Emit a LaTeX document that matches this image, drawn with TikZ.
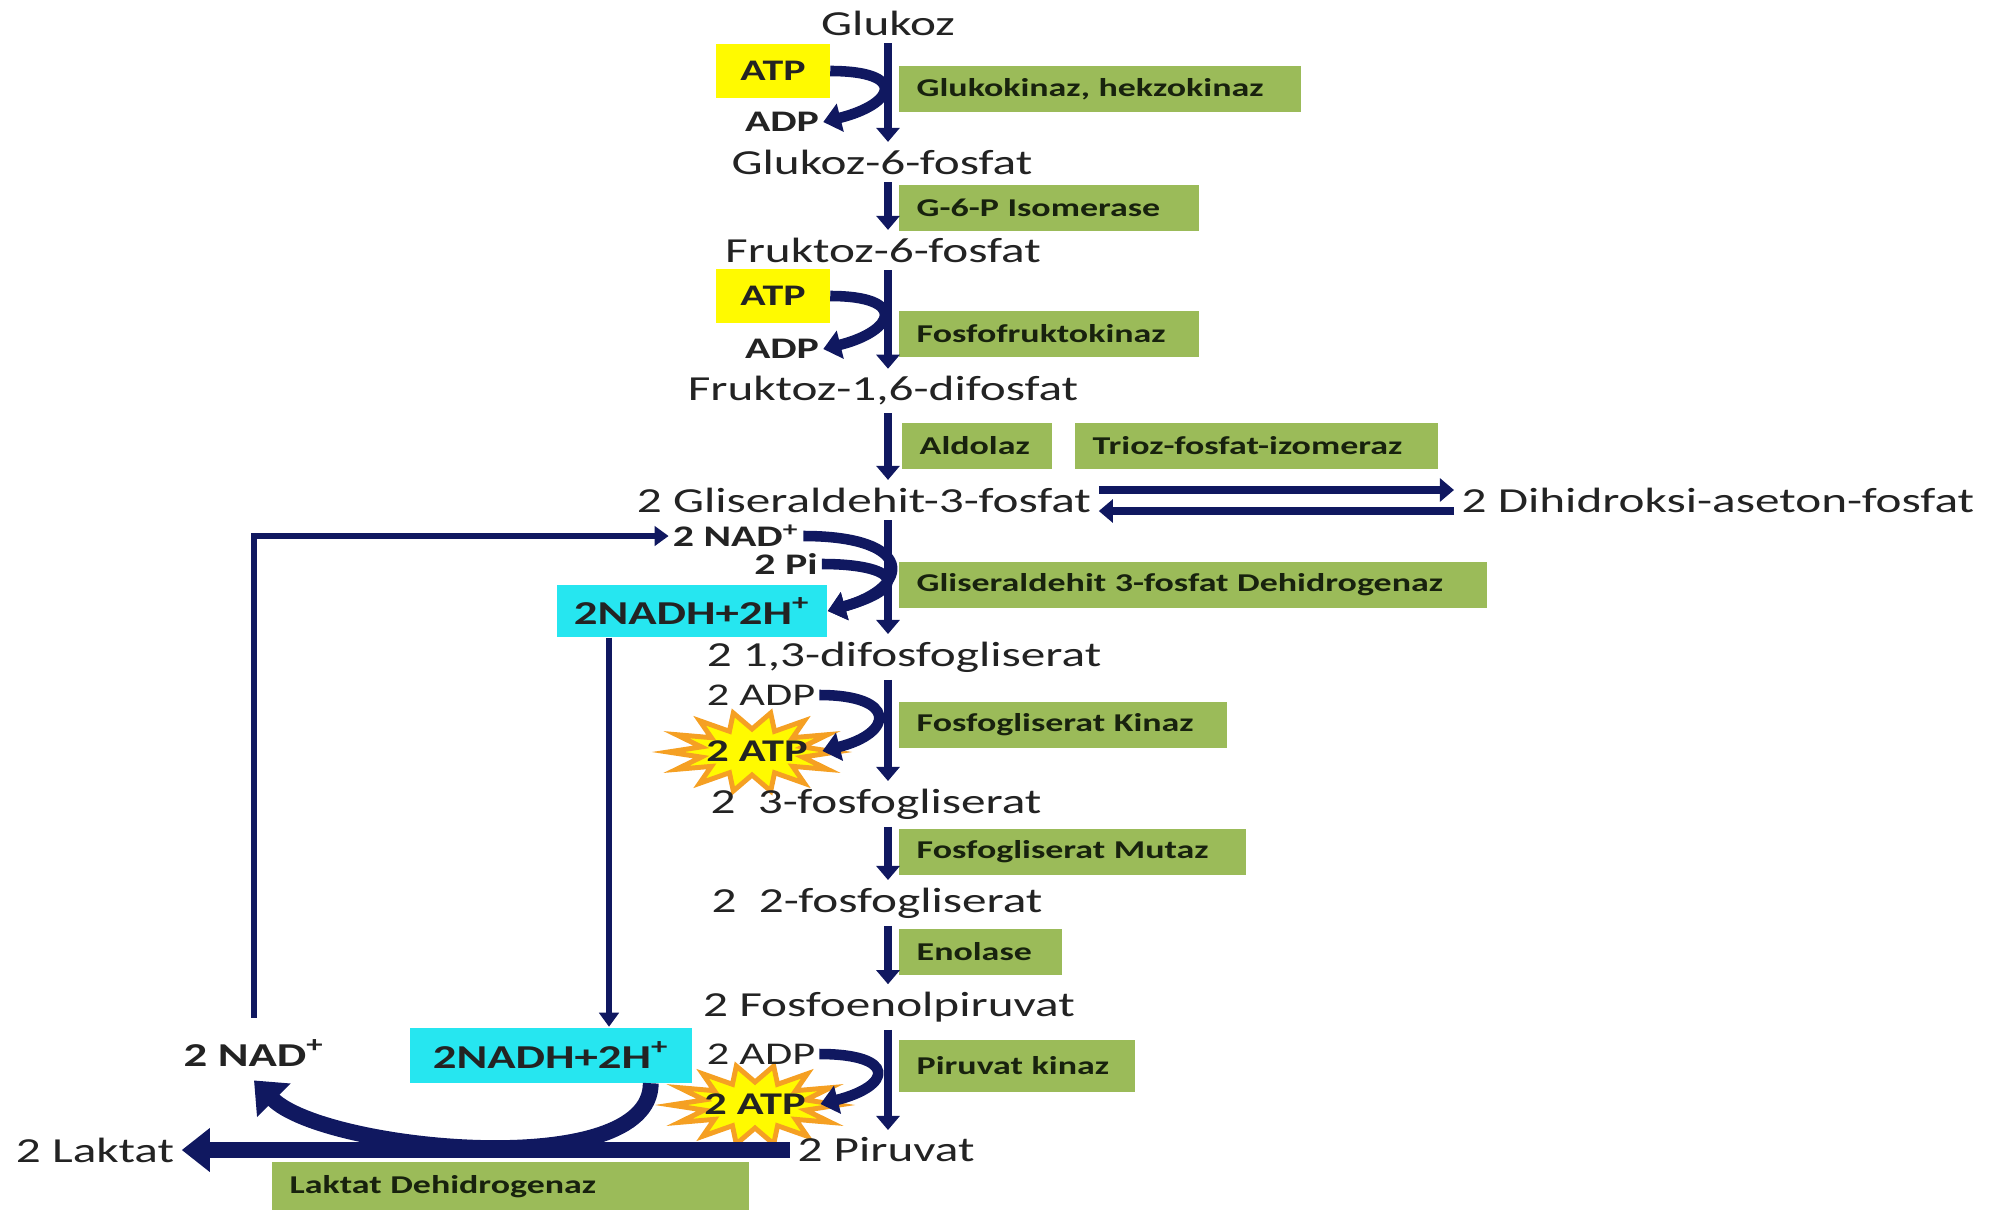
\documentclass[tikz,border=0pt]{standalone}
\usepackage{fontspec}
\setmainfont[FakeStretch=1.4]{Carlito}
\usepackage{tikz}
\usetikzlibrary{arrows.meta,positioning}
\definecolor{glyNavy}{RGB}{16,24,96}
\definecolor{glyGreen}{RGB}{155,187,89}
\definecolor{glyInk}{RGB}{24,34,14}
\definecolor{glyYellow}{RGB}{255,250,0}
\definecolor{glyCyan}{RGB}{38,230,240}
\definecolor{glyOrange}{RGB}{245,160,35}
\definecolor{glyText}{RGB}{35,35,35}

\begin{document}
\begin{tikzpicture}[
  x=0.01cm, y=-0.01cm,
  met/.style={font=\fontsize{10}{12}\selectfont,text=glyText,inner sep=2pt},
  cof/.style={font=\fontsize{8.5}{10}\selectfont\bfseries,text=glyText,inner sep=1pt},
  enz/.style={fill=glyGreen,text=glyInk,font=\fontsize{7.3}{9}\selectfont\bfseries,anchor=west,align=left,inner xsep=0.18cm,inner ysep=0pt,minimum height=0.46cm},
  atpbox/.style={fill=glyYellow,text=glyText,font=\fontsize{8.5}{10}\selectfont\bfseries,minimum width=1.13cm,minimum height=0.54cm,inner sep=0pt},
  nadhbox/.style={fill=glyCyan,text=glyText,font=\fontsize{9.5}{11}\selectfont\bfseries,inner sep=0pt},
  flow/.style={draw=glyNavy,line width=2.3pt,-{Triangle[width=6.5pt,length=4pt]}},
  side/.style={draw=glyNavy,line width=3pt,-{Triangle[width=8pt,length=5pt]}},
  loopline/.style={draw=glyNavy,line width=1.8pt,-{Triangle[width=5.5pt,length=4pt]}},
  burst/.style={fill=glyYellow,draw=glyOrange,line width=1.4pt,line join=miter}
]
  \useasboundingbox (0,0) rectangle (1998,1209);
  \coordinate (axis) at (888,0);
  \coordinate (drop) at (609,0);

  % stars behind the 2 ATP labels
  \foreach \cx/\cy in {752/752,755/1105}
    \filldraw[burst] plot[domain=0:27,samples=28,variable=\k]
      ({\cx+ifthenelse(mod(round(\k),2)==0,84,52)*cos(\k*360/28)},
       {\cy+ifthenelse(mod(round(\k),2)==0,40,23)*sin(\k*360/28)}) -- cycle;

  % metabolites
  \node[met] (glc)  at (888,23)   {Glukoz};
  \node[met] (g6p)  at (882,162)  {Glukoz-6-fosfat};
  \node[met] (f6p)  at (883,250)  {Fruktoz-6-fosfat};
  \node[met] (f16)  at (883,391)  {Fruktoz-1,6-difosfat};
  \node[met] (gap)  at (864,500)  {2 Gliseraldehit-3-fosfat};
  \node[met] (dhap) at (1718,500) {2 Dihidroksi-aseton-fosfat};
  \node[met] (bpg)  at (904,657)  {2 1,3-difosfogliserat};
  \node[met] (pg3)  at (876,804)  {2~~3-fosfogliserat};
  \node[met] (pg2)  at (877,903)  {2~~2-fosfogliserat};
  \node[met] (pep)  at (889,1007) {2 Fosfoenolpiruvat};
  \node[met] (pyr)  at (886,1150) {2 Piruvat};
  \node[met] (lac)  at (95,1150)  {2 Laktat};

  % enzymes
  \node[enz,text width=3.66cm] (hk)    at (898,89)   {Glukokinaz, hekzokinaz};
  \node[enz,text width=2.64cm] (gpi)   at (898,208)  {G-6-P Isomerase};
  \node[enz,text width=2.64cm] (pfk)   at (898,334)  {Fosfofruktokinaz};
  \node[enz,text width=1.14cm] (ald)   at (901,446)  {Aldolaz};
  \node[enz,text width=3.27cm] (tpi)   at (1074,446) {Trioz-fosfat-izomeraz};
  \node[enz,text width=5.52cm] (gapdh) at (898,585)  {Gliseraldehit 3-fosfat Dehidrogenaz};
  \node[enz,text width=2.92cm] (pgk)   at (898,725)  {Fosfogliserat Kinaz};
  \node[enz,text width=3.11cm] (pgm)   at (898,852)  {Fosfogliserat Mutaz};
  \node[enz,text width=1.27cm] (eno)   at (898,952)  {Enolase};
  \node[enz,text width=2.0cm,minimum height=0.52cm] (pk) at (898,1066) {Piruvat kinaz};
  \node[enz,text width=4.41cm,minimum height=0.5cm] (ldh) at (271,1187) {Laktat Dehidrogenaz};

  % cofactors
  \node[atpbox] (atp1) at (773,71)  {ATP};
  \node[cof]    (adp1) at (782,122) {ADP};
  \node[atpbox] (atp2) at (773,296) {ATP};
  \node[cof]    (adp2) at (782,349) {ADP};
  \node[cof]    (nadu) at (736,536) {2 NAD\textsuperscript{+}};
  \node[cof]    (pi)   at (786,564) {2 Pi};
  \node[nadhbox,minimum width=2.7cm,minimum height=0.52cm] (nadh1) at (692,611) {2NADH+2H\textsuperscript{+}};
  \node[cof,font=\fontsize{9}{11}\selectfont] (adp3) at (761,695) {2 ADP};
  \node[cof,font=\fontsize{9}{11}\selectfont\bfseries,inner xsep=4pt] (atp3) at (757,751) {2 ATP};
  \node[cof,font=\fontsize{9}{11}\selectfont] (adp4) at (761,1054) {2 ADP};
  \node[cof,font=\fontsize{9}{11}\selectfont\bfseries,inner xsep=4pt] (atp4) at (755,1104) {2 ATP};
  \node[nadhbox,minimum width=2.82cm,minimum height=0.55cm] (nadh2) at (551,1055) {2NADH+2H\textsuperscript{+}};
  \node[cof,font=\fontsize{9.5}{11}\selectfont\bfseries] (nadb) at (254,1053) {2 NAD\textsuperscript{+}};

  % main chain
  \draw[flow] (glc.south -| axis) -- (g6p.north -| axis);
  \draw[flow] (g6p.south -| axis) -- (f6p.north -| axis);
  \draw[flow] (f6p.south -| axis) -- (f16.north -| axis);
  \draw[flow] (f16.south -| axis) -- (gap.north -| axis);
  \draw[flow] (gap.south -| axis) -- (bpg.north -| axis);
  \draw[flow] (bpg.south -| axis) -- (pg3.north -| axis);
  \draw[flow] (pg3.south -| axis) -- (pg2.north -| axis);
  \draw[flow] (pg2.south -| axis) -- (pep.north -| axis);
  \draw[flow] (pep.south -| axis) -- (pyr.north -| axis);
  \draw[flow] ([yshift=0.1cm]gap.east) -- ([yshift=0.1cm]dhap.west);
  \draw[flow] ([yshift=-0.11cm]dhap.west) -- ([yshift=-0.11cm]gap.east);

  % side reactions
  \draw[side] (atp1.east) .. controls +(78,0) and +(72,-18) .. (adp1.east);
  \draw[side] (atp2.east) .. controls +(78,0) and +(72,-18) .. (adp2.east);
  \draw[side] (nadu.east) .. controls +(112,0) and +(85,-24) .. (nadh1.east);
  \draw[side] (pi.east) .. controls +(75,0) and +(85,-24) .. (nadh1.east);
  \draw[side] (adp3.east) .. controls +(78,0) and +(72,-18) .. (atp3.east);
  \draw[side] (adp4.east) .. controls +(78,0) and +(72,-18) .. (atp4.east);

  % NAD recycling
  \draw[loopline] ([yshift=0.18cm]nadb.north) |- (nadu.west);
  \draw[loopline] (nadh1.south -| drop) -- (nadh2.north -| drop);
  \draw[draw=glyNavy,line width=4.5pt,-{Triangle[width=13pt,length=8pt]}]
    ([xshift=-0.42cm]nadh2.south east) .. controls +(0,100) and +(70,70) .. ([yshift=-0.1cm]nadb.south);
  \draw[draw=glyNavy,line width=4.3pt,-{Triangle[width=12pt,length=8pt]}] (pyr.west) -- (lac.east);
\end{tikzpicture}
\end{document}
